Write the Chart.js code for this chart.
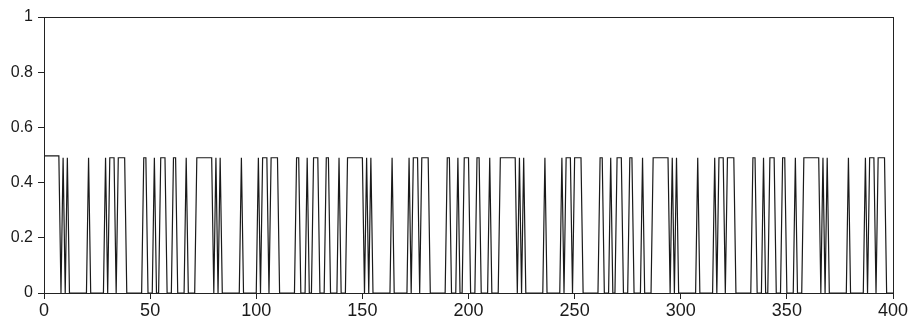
<!DOCTYPE html>
<html>
<head>
<meta charset="utf-8">
<script src="https://cdn.jsdelivr.net/npm/chart.js@4/dist/chart.umd.min.js"></script>
<style>
  html, body { margin: 0; padding: 0; background: #fff; }
  #wrap { width: 916px; height: 325px; position: relative; }
</style>
</head>
<body>
<div id="wrap"><canvas id="regime"></canvas></div>
<script>
// values at t = 0..400 (one row = 10 steps)
const probs = [
  0.497,0.497,0.497,0.497,0.497,0.497,0.497,0.497,0,0.49,
  0,0.49,0,0,0,0,0,0,0,0,
  0,0.49,0,0,0,0,0,0,0,0.49,
  0,0.49,0.49,0.49,0,0.49,0.49,0.49,0.49,0,
  0,0,0,0,0,0,0,0.49,0.49,0,
  0,0,0.49,0,0,0.49,0.49,0.49,0,0,
  0,0.49,0.49,0,0,0,0,0.49,0,0,
  0,0,0.49,0.49,0.49,0.49,0.49,0.49,0.49,0.49,
  0,0.49,0,0.49,0,0,0,0,0,0,
  0,0,0,0.49,0,0,0,0,0,0,
  0,0.49,0,0.49,0.49,0.49,0,0.49,0.49,0.49,
  0.49,0,0,0,0,0,0,0,0,0.49,
  0.49,0,0,0,0.49,0,0,0.49,0.49,0.49,
  0,0,0,0.49,0.49,0,0,0,0,0.49,
  0,0,0,0.49,0.49,0.49,0.49,0.49,0.49,0.49,
  0.49,0,0.49,0,0.49,0,0,0,0,0,
  0,0,0,0,0.49,0,0,0,0,0,
  0,0,0.49,0,0.49,0.49,0.49,0,0.49,0.49,
  0.49,0.49,0,0,0,0,0,0,0,0,
  0.49,0.49,0,0,0,0.49,0,0,0.49,0.49,
  0.49,0,0,0,0.49,0.49,0,0,0,0,
  0.49,0,0,0,0,0.49,0.49,0.49,0.49,0.49,
  0.49,0.49,0.49,0,0.49,0,0.49,0,0,0,
  0,0,0,0,0,0,0.49,0,0,0,
  0,0,0,0,0.49,0,0.49,0.49,0.49,0,
  0.49,0.49,0.49,0.49,0,0,0,0,0,0,
  0,0,0.49,0.49,0,0,0,0.49,0,0,
  0.49,0.49,0.49,0,0,0,0.49,0.49,0,0,
  0,0,0.49,0,0,0,0,0.49,0.49,0.49,
  0.49,0.49,0.49,0.49,0.49,0,0.49,0,0.49,0,
  0,0,0,0,0,0,0,0,0.49,0,
  0,0,0,0,0,0,0.49,0,0.49,0.49,
  0.49,0,0.49,0.49,0.49,0.49,0,0,0,0,
  0,0,0,0,0.49,0.49,0,0,0,0.49,
  0,0,0.49,0.49,0.49,0,0,0,0.49,0.49,
  0,0,0,0,0.49,0,0,0,0.49,0.49,
  0.49,0.49,0.49,0.49,0.49,0.49,0,0.49,0,0.49,
  0,0,0,0,0,0,0,0,0,0.49,
  0,0,0,0,0,0,0,0.49,0,0.49,
  0.49,0.49,0,0.49,0.49,0.49,0.49,0,0,0,
  0
];

const xMin = 0, xMax = 400, xStep = 50;
const yMin = 0, yMax = 1, yStep = 0.2;

const points = probs.map((v, i) => ({ x: i, y: v }));

// box round the plot area
const frame = {
    id: 'frame',
    afterDraw(chart) {
        const a = chart.chartArea;
        const c = chart.ctx;
        c.save();
        c.strokeStyle = '#222';
        c.lineWidth = 1;
        c.strokeRect(Math.round(a.left) + 0.5, Math.round(a.top) + 0.5,
                     Math.round(a.right - a.left), Math.round(a.bottom - a.top));
        c.restore();
    }
};

const ctx = document.getElementById('regime').getContext('2d');

new Chart(ctx, {
    type: 'line',
    data: {
        datasets: [{
            data: points,
            borderColor: '#1a1a1a',
            borderWidth: 1.2,
            pointRadius: 0,
            fill: false,
            tension: 0
        }]
    },
    options: {
        responsive: true,
        maintainAspectRatio: false,
        animation: false,
        layout: { padding: { left: 0, right: 23, top: 17, bottom: 0 } },
        plugins: {
            legend: { display: false },
            tooltip: { enabled: false }
        },
        scales: {
            x: {
                type: 'linear',
                min: xMin,
                max: xMax,
                afterFit(s) { s.height = 32; },
                ticks: {
                    stepSize: xStep,
                    color: '#1a1a1a',
                    maxRotation: 0,
                    padding: 1,
                    font: { family: 'Liberation Sans, Arial, sans-serif', size: 18 }
                },
                grid: { display: true, drawOnChartArea: false, drawTicks: true, tickLength: 6, color: '#222' },
                border: { display: true, color: '#222' }
            },
            y: {
                min: yMin,
                max: yMax,
                afterFit(s) { s.width = 44; },
                ticks: {
                    stepSize: yStep,
                    color: '#1a1a1a',
                    padding: 5,
                    // 1 and 0 without decimals, like the original
                    callback: (v) => String(+v.toFixed(1)),
                    font: { family: 'Liberation Sans, Arial, sans-serif', size: 16 }
                },
                grid: { display: true, drawOnChartArea: false, drawTicks: true, tickLength: 6, color: '#222' },
                border: { display: true, color: '#222' }
            }
        }
    },
    plugins: [frame]
});
</script>
</body>
</html>
